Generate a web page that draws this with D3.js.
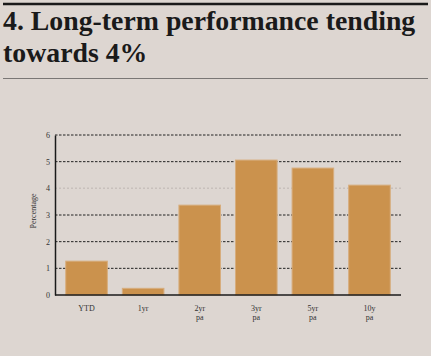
<!DOCTYPE html>
<html><head><meta charset="utf-8">
<script src="https://cdn.jsdelivr.net/npm/d3@7"></script>
<style>
html,body{margin:0;padding:0;background:#ddd6d1;}
svg{display:block;}
</style></head>
<body>
<svg id="c" width="431" height="356"></svg>
<script>
const categories = ["YTD", "1yr", "2yr\npa", "3yr\npa", "5yr\npa", "10y\npa"];
const values = [1.27, 0.25, 3.37, 5.06, 4.76, 4.12];
const yTicks = [0, 1, 2, 3, 4, 5, 6];
const highlightTick = 4;

(function () {
const svg = d3.select("#c");
const W = 431, H = 356;
svg.append("rect").attr("width", W).attr("height", H).attr("fill", "#ddd6d1");

// Title block
svg.append("line").attr("x1", 3).attr("x2", 428).attr("y1", 4).attr("y2", 4)
  .attr("stroke", "#1a1a1a").attr("stroke-width", 2.5);
const title = svg.append("text").attr("x", 3).attr("font-family", "Liberation Serif, serif")
  .attr("font-weight", "bold").attr("font-size", 27.8).attr("fill", "#1a1a1a");
title.append("tspan").attr("x", 3).attr("y", 30).text("4. Long-term performance tending");
title.append("tspan").attr("x", 3).attr("y", 62).text("towards 4%");
svg.append("line").attr("x1", 3).attr("x2", 428).attr("y1", 78.5).attr("y2", 78.5)
  .attr("stroke", "#7a7775").attr("stroke-width", 1);

const mLeft = 55, mRight = 401, mTop = 135, mBottom = 295;
const x = d3.scaleBand().domain(categories).range([mLeft, mRight]).paddingInner(0.265).paddingOuter(0.19);
const y = d3.scaleLinear().domain([0, 6]).range([mBottom, mTop]);

// gridlines
svg.append("g").selectAll("line").data(yTicks.filter(d => d > 0)).join("line")
  .attr("x1", mLeft).attr("x2", mRight)
  .attr("y1", d => y(d)).attr("y2", d => y(d))
  .attr("stroke", d => d === highlightTick ? "#c8c0bc" : "#222")
  .attr("stroke-width", d => d === highlightTick ? 1.5 : 1)
  .attr("stroke-dasharray", d => d === highlightTick ? "2,2" : "2.5,1.5");

// bars
svg.append("g").selectAll("rect").data(values).join("rect")
  .attr("x", (d, i) => x(categories[i]))
  .attr("width", x.bandwidth())
  .attr("y", d => y(d))
  .attr("height", d => y(0) - y(d))
  .attr("fill", "#cb924d")
  .attr("stroke", "#d7ad7d").attr("stroke-width", 1);

// y axis
const yAxis = d3.axisLeft(y).tickValues(yTicks).tickSize(0).tickPadding(5).tickFormat(d3.format("d"));
const ya = svg.append("g").attr("transform", `translate(${mLeft},0)`).style("color", "#333").call(yAxis);
ya.select(".domain").attr("stroke", "#1a1a1a").attr("stroke-width", 1.5);
ya.selectAll("text").attr("font-family", "Liberation Serif, serif").attr("font-size", 8).attr("fill", "#333");

// x axis baseline
svg.append("line").attr("x1", mLeft).attr("x2", mRight).attr("y1", mBottom).attr("y2", mBottom)
  .attr("stroke", "#1a1a1a").attr("stroke-width", 1.5);

// x labels
const xAxis = d3.axisBottom(x).tickSize(0).tickPadding(0).tickFormat("");
const xa = svg.append("g").attr("transform", `translate(0,${mBottom})`).call(xAxis);
xa.select(".domain").remove();
xa.selectAll(".tick").each(function(d) {
  const t = d3.select(this).append("text").attr("font-family", "Liberation Serif, serif")
    .attr("font-size", 8).attr("fill", "#333").attr("text-anchor", "middle");
  d.split("\n").forEach((s, i) => t.append("tspan").attr("x", 0).attr("y", 16 + i * 9).text(s));
});

// y label
svg.append("text").attr("transform", `translate(36,${(mTop + mBottom) / 2 - 4}) rotate(-90)`)
  .attr("text-anchor", "middle").attr("font-family", "Liberation Serif, serif")
  .attr("font-size", 8).attr("fill", "#333").text("Percentage");
})();
</script>
</body></html>
